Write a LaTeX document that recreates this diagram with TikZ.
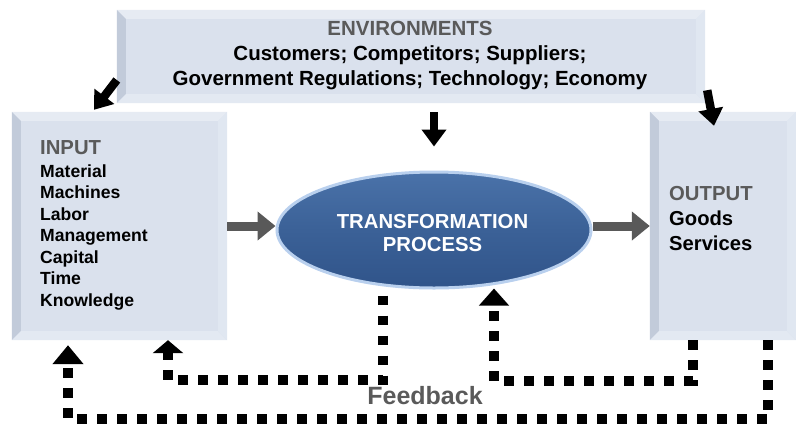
\documentclass[tikz,border=0pt]{standalone}
\usepackage{fontspec}
\setmainfont{Liberation Sans}
\usetikzlibrary{arrows.meta,shapes.geometric,calc}
\definecolor{boxfill}{HTML}{DAE1ED}
\definecolor{bvT}{HTML}{E6EBF3}
\definecolor{bvL}{HTML}{C2CBDA}
\definecolor{bvB}{HTML}{E3E9F2}
\definecolor{bvR}{HTML}{E0E7F1}
\definecolor{titlegray}{HTML}{5A5A5A}
\definecolor{arrgray}{HTML}{595959}
\definecolor{ellc}{HTML}{3B6197}
\definecolor{elltop}{HTML}{4A72A9}
\definecolor{ellbot}{HTML}{30548A}
\definecolor{glowc}{HTML}{B9D0EE}
\newcommand\bevelit[1]{%
  \fill[bvT] (#1.north west)--(#1.north east)--([shift={(-9pt,-9pt)}]#1.north east)--([shift={(9pt,-9pt)}]#1.north west)--cycle;
  \fill[bvL] (#1.north west)--([shift={(9pt,-9pt)}]#1.north west)--([shift={(9pt,9pt)}]#1.south west)--(#1.south west)--cycle;
  \fill[bvB] (#1.south west)--([shift={(9pt,9pt)}]#1.south west)--([shift={(-9pt,9pt)}]#1.south east)--(#1.south east)--cycle;
  \fill[bvR] (#1.north east)--(#1.south east)--([shift={(-9pt,9pt)}]#1.south east)--([shift={(-9pt,-9pt)}]#1.north east)--cycle;}
\begin{document}
\begin{tikzpicture}[x=1pt,y=-1pt,
  box/.style={rectangle, fill=boxfill, inner sep=0pt, draw=none},
  ttl/.style={font=\fontsize{20.5}{24}\selectfont\bfseries, text=titlegray, inner sep=0pt, anchor=base},
  envtxt/.style={font=\fontsize{20.5}{24}\selectfont\bfseries, text=black, inner sep=0pt, anchor=base},
  intitle/.style={font=\fontsize{20.3}{24}\selectfont\bfseries, text=titlegray, inner sep=0pt, anchor=base west},
  inlist/.style={font=\fontsize{17.6}{21}\selectfont\bfseries, text=black, inner sep=0pt, anchor=base west},
  outlist/.style={font=\fontsize{20.2}{24}\selectfont\bfseries, text=black, inner sep=0pt, anchor=base west},
  wtxt/.style={font=\fontsize{20.3}{24}\selectfont\bfseries, text=white, inner sep=0pt, anchor=base},
  fbtxt/.style={font=\fontsize{25}{30}\selectfont\bfseries, text=titlegray, inner sep=0pt, anchor=base},
  garrow/.style={draw=arrgray, line width=9pt, -{Triangle[length=18pt,width=28pt,fill=arrgray]}},
  barrow/.style={draw=black, line width=8.5pt, -{Triangle[length=17pt,width=24pt]}},
  fb/.style={draw=black, line width=9.5pt, dash pattern=on 9.5pt off 10.5pt}]
\useasboundingbox (0,0) rectangle (796,424);
% boxes
\node[box, minimum width=588pt, minimum height=93pt] (env) at (411,56.5) {};
\node[box, minimum width=215pt, minimum height=228pt] (in) at (119.5,226) {};
\node[box, minimum width=146pt, minimum height=228pt] (out) at (723,226) {};
\bevelit{env}\bevelit{in}\bevelit{out}
% environment texts
\node[ttl] (envt) at (410,35) {ENVIRONMENTS};
\node[envtxt] (envl1) at (410,60) {Customers; Competitors; Suppliers;};
\node[envtxt] (envl2) at (410,85) {Government Regulations; Technology; Economy};
% input texts
\node[intitle] (int) at (40,154) {INPUT};
\foreach \t [count=\i] in {Material,Machines,Labor,Management,Capital,Time,Knowledge}
  \node[inlist] (inl\i) at (40,155.5+21.5*\i) {\t};
% output texts
\node[intitle] (outt) at (669,200) {OUTPUT};
\node[outlist] (outl1) at (669,225.5) {Goods};
\node[outlist] (outl2) at (669,250) {Services};
% transformation
\node[ellipse, minimum width=314pt, minimum height=116pt, inner sep=0pt,
      draw=glowc, line width=3pt, top color=elltop, bottom color=ellbot, middle color=ellc] (proc) at (434,230) {};
\node[wtxt] (pt1) at (432.5,228) {TRANSFORMATION};
\node[wtxt] (pt2) at (432.5,251) {PROCESS};
% gray flow arrows
\draw[garrow] (in.east) -- (in.east -| proc.west);
\draw[garrow] (proc.east |- out.west) -- (out.west);
% environment arrows
\draw[barrow] ([yshift=-23.5pt]env.west) -- ([xshift=-25.5pt,yshift=2pt]in.north);
\path (proc.north |- env.south) coordinate (m0);
\draw[barrow] ([yshift=-9pt]m0) -- ([yshift=24pt]proc.north);
\draw[barrow] ([xshift=2pt,yshift=13pt]env.south east) -- ([xshift=-9pt,yshift=-14pt]out.north);
% feedback
\coordinate (k1) at (168,380);
\coordinate (k2) at (494,381);
\coordinate (k3) at (68,419);
\draw[fb, -{Triangle[length=13pt,width=30pt]}] ([xshift=-51pt,yshift=-6pt]proc.south) |- (k1) -- (k1 |- in.south);
\draw[fb, -{Triangle[length=17pt,width=29pt]}] ([xshift=-30pt]out.south) |- (k2) -- ($(k2 |- proc.south)+(0,-1)$);
\draw[fb, -{Triangle[length=19pt,width=30pt]}] ([xshift=45pt]out.south) |- (k3) -- ($(k3 |- in.south)+(0,5)$);
\node[fbtxt] (fbl) at (425,404) {Feedback};
\end{tikzpicture}
\end{document}
